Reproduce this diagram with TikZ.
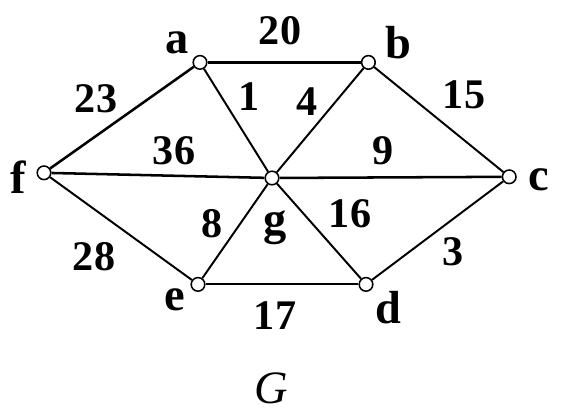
\documentclass[tikz,border=0pt]{standalone}
\usepackage{fontspec}
\setmainfont{Liberation Serif}
\tikzset{
  vertex/.style={circle, draw, fill=white, line width=1.1pt, inner sep=0pt, minimum size=0.34cm},
  vname/.style={font=\fontsize{33}{33}\selectfont\bfseries, inner sep=0pt},
  weight/.style={font=\fontsize{30}{30}\selectfont\bfseries, inner sep=0pt},
  edge/.style={line width=1.4pt},
  bold edge/.style={line width=1.8pt}
}

\begin{document}
\begin{tikzpicture}
  \useasboundingbox (0,0) rectangle (14.525,10.45);

  % Vertices
  \node[vertex] (a) at (5.0,8.89) {};
  \node[vertex] (b) at (9.21,8.89) {};
  \node[vertex] (c) at (12.73,6.03) {};
  \node[vertex] (d) at (9.15,3.34) {};
  \node[vertex] (e) at (4.95,3.34) {};
  \node[vertex] (f) at (1.10,6.13) {};
  \node[vertex] (g) at (6.80,6.00) {};

  % Vertex names
  \node[vname] (la) at (4.43,9.375) {a};
  \node[vname] (lb) at (9.95,9.375) {b};
  \node[vname] (lc) at (13.475,5.95) {c};
  \node[vname] (ld) at (9.70,2.75) {d};
  \node[vname] (le) at (4.375,2.95) {e};
  \node[vname] (lf) at (0.45,6.025) {f};
  \node[vname] (lg) at (6.875,4.75) {g};

  % Edges
  \draw[bold edge] (a) -- (b);
  \draw[bold edge] (f) -- (a);
  \draw[edge] (a) -- (g);
  \draw[edge] (b) -- (g);
  \draw[edge] (b) -- (c);
  \draw[bold edge] (f) -- (g);
  \draw[bold edge] (g) -- (c);
  \draw[edge] (f) -- (e);
  \draw[edge] (e) -- (g);
  \draw[edge] (g) -- (d);
  \draw[edge] (e) -- (d);
  \draw[edge] (d) -- (c);

  % Weights
  \node[weight] (wab) at (7.0,9.675) {20};
  \node[weight] (wfa) at (2.40,7.975) {23};
  \node[weight] (wag) at (6.225,8.025) {1};
  \node[weight] (wfg) at (4.35,6.675) {36};
  \node[weight] (wbg) at (7.675,7.90) {4};
  \node[weight] (wbc) at (11.60,8.075) {15};
  \node[weight] (wgc) at (9.575,6.675) {9};
  \node[weight] (wfe) at (2.35,4.025) {28};
  \node[weight] (weg) at (5.30,4.85) {8};
  \node[weight] (wed) at (6.875,2.55) {17};
  \node[weight] (wgd) at (8.75,5.10) {16};
  \node[weight] (wdc) at (11.325,4.15) {3};

  % Graph name
  \node[font=\fontsize{33}{33}\selectfont\itshape, inner sep=0pt] (name) at (6.775,0.75) {G};
\end{tikzpicture}
\end{document}
